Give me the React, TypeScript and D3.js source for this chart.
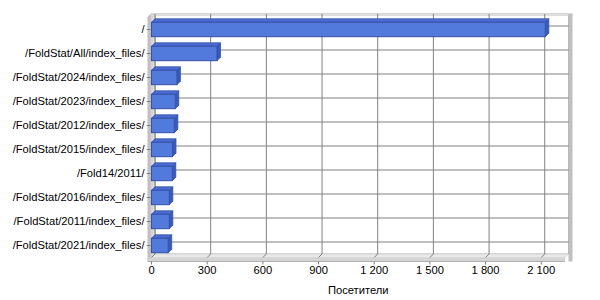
import React from "react";
import * as d3 from "d3";

const categories = [
  "/",
  "/FoldStat/All/index_files/",
  "/FoldStat/2024/index_files/",
  "/FoldStat/2023/index_files/",
  "/FoldStat/2012/index_files/",
  "/FoldStat/2015/index_files/",
  "/Fold14/2011/",
  "/FoldStat/2016/index_files/",
  "/FoldStat/2011/index_files/",
  "/FoldStat/2021/index_files/",
];
const visitors = [2122, 353, 137, 128, 123, 113, 112, 96, 96, 90];
const xTicks = [0, 300, 600, 900, 1200, 1500, 1800, 2100];
const xTitle = "Посетители";

const W = 600;
const H = 300;
const D = 3.5;
const FONT = "'Liberation Sans', Arial, sans-serif";
const FS = 11.2;

export default function App() {
  const x = d3.scaleLinear().domain([0, 2228]).range([151.5, 565]);
  const y = d3
    .scaleBand<string>()
    .domain(categories)
    .range([17.5, 257.5])
    .paddingInner(0.4)
    .paddingOuter(0.2);
  const x0 = x(0);
  const xMax = x.range()[1];
  const top = y.range()[0];
  const bot = y.range()[1];
  const bh = y.bandwidth();
  const fmt = (v: number) => d3.format(",")(v).replace(/,/g, " ");
  const grid = "#808080";

  return (
    <svg width={W} height={H} style={{ position: "absolute", left: 0, top: 0 }} fontFamily={FONT}>
      <rect x={0} y={0} width={W} height={H} fill="#ffffff" />
      {/* back wall */}
      <rect x={x0 + D} y={top - D} width={xMax - x0} height={bot - top} fill="#ffffff" stroke="#b0b0b0" strokeWidth={1} />
      {/* top edge of back wall */}
      <polygon
        points={`${x0 - 4},${top} ${x0 - 0.5},${top - D - 0.5} ${xMax + D + 4},${top - D - 0.5} ${xMax + D + 4},${top - D + 1.5} ${x0 + D},${top - D + 1.5}`}
        fill="#e0e0e0"
        stroke="#c8c8c8"
        strokeWidth={0.5}
      />
      {/* right band */}
      <rect x={xMax + D} y={top - D} width={4} height={bot - top + D + 4} fill="#c0c0c0" />
      {/* left wall */}
      <polygon
        points={`${x0 - 4},${top} ${x0 - 0.5},${top - D} ${x0 - 0.5},${bot + 4} ${x0 - 4},${bot + 4}`}
        fill="#c0c0c0"
      />
      <polygon
        points={`${x0 - 0.5},${top - D} ${x0 + D},${top - D} ${x0 + D},${bot - D} ${x0 - 0.5},${bot}`}
        fill="#d8d8d8"
      />
      {/* floor */}
      <polygon
        points={`${x0},${bot} ${x0 + D},${bot - D} ${xMax + D},${bot - D} ${xMax},${bot}`}
        fill="#e8e8e8"
        stroke="#c8c8c8"
        strokeWidth={0.5}
      />
      <rect x={x0 - 4} y={bot} width={xMax - x0 + 4} height={4} fill="#d4d4d4" />
      <line x1={x0 - 4} x2={xMax} y1={bot + 4} y2={bot + 4} stroke="#b0b0b0" />
      {/* vertical gridlines */}
      {xTicks.map((t) => (
        <g key={"g" + t}>
          <line x1={x(t) + D} x2={x(t) + D} y1={top - D} y2={bot - D} stroke={grid} strokeWidth={1} />
          <line x1={x(t) + D} x2={x(t)} y1={bot - D} y2={bot} stroke={grid} strokeWidth={1} />
          <line x1={x(t)} x2={x(t)} y1={bot + 4} y2={bot + 7} stroke={grid} strokeWidth={1} />
          <text x={x(t)} y={271} textAnchor="middle" dominantBaseline="middle" fontSize={FS} fill="#000">
            {fmt(t)}
          </text>
        </g>
      ))}
      {/* horizontal gridlines and category labels */}
      {categories.map((c) => {
        const yc = (y(c) as number) + bh / 2;
        return (
          <g key={"h" + c}>
            <line x1={x0 + D} x2={xMax + D} y1={yc - D} y2={yc - D} stroke={grid} strokeWidth={1} />
            <line x1={x0 - 5} x2={x0 - 1} y1={yc} y2={yc} stroke={grid} strokeWidth={1} />
            <text x={144.5} y={yc + 1} textAnchor="end" dominantBaseline="middle" fontSize={FS} fill="#000">
              {c}
            </text>
          </g>
        );
      })}
      {/* bars */}
      {categories.map((c, i) => {
        const yb = y(c) as number;
        const xe = x(visitors[i]);
        return (
          <g key={"b" + c}>
            <polygon
              points={`${x0},${yb} ${x0 + D},${yb - D} ${xe + D},${yb - D} ${xe},${yb}`}
              fill="#4a6cd0"
              stroke="#3352a8"
              strokeWidth={0.8}
            />
            <polygon
              points={`${xe},${yb} ${xe + D},${yb - D} ${xe + D},${yb + bh - D} ${xe},${yb + bh}`}
              fill="#3a5ab8"
              stroke="#3352a8"
              strokeWidth={0.8}
            />
            <rect x={x0} y={yb} width={xe - x0} height={bh} fill="#5279dc" stroke="#3352a8" strokeWidth={1} />
          </g>
        );
      })}
      <text x={(x0 + xMax) / 2} y={291} textAnchor="middle" dominantBaseline="middle" fontSize={FS} fill="#000">
        {xTitle}
      </text>
    </svg>
  );
}
